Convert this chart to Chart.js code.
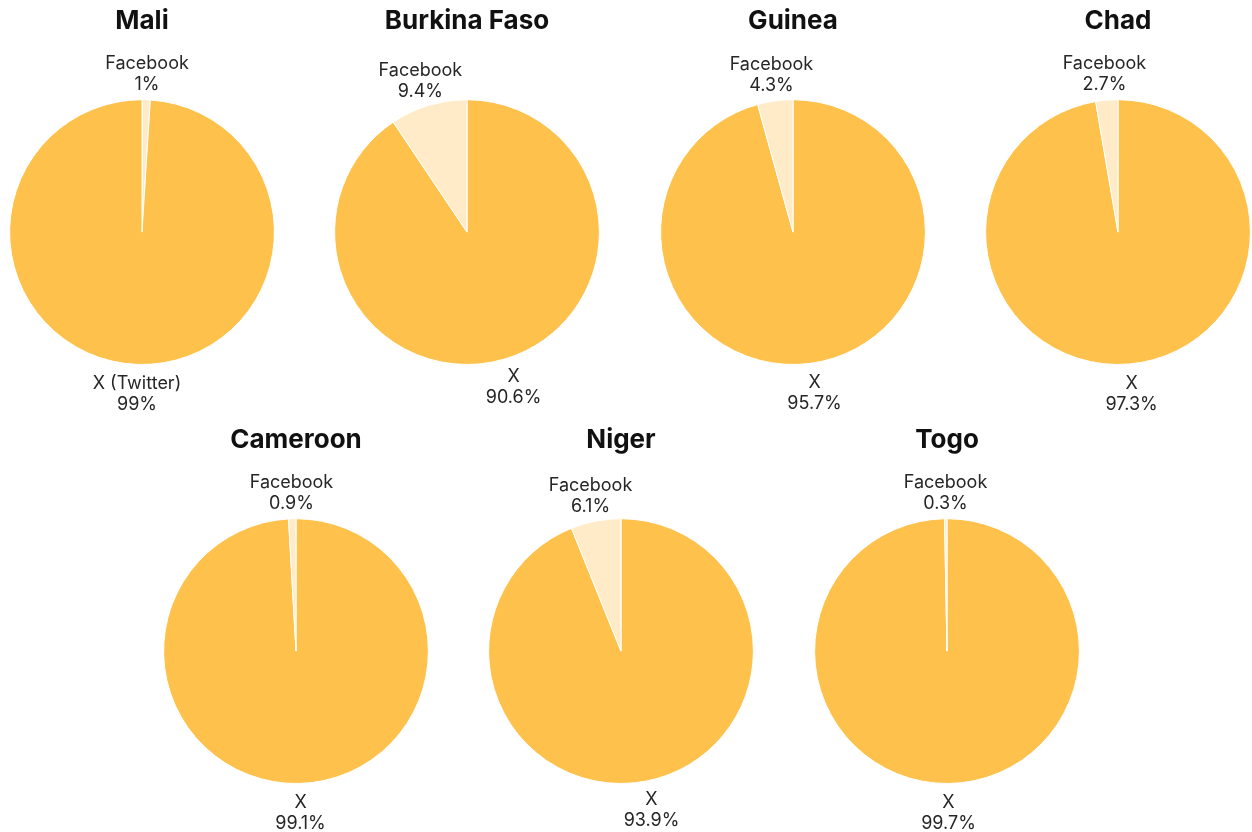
<!DOCTYPE html>
<html lang="en">
<head>
    <meta charset="UTF-8">
    <title>X vs Facebook by country</title>
    <style>
        body {
            margin: 0;
            padding: 0;
            background: #ffffff;
            width: 1252px;
            height: 832px;
            overflow: hidden;
            position: relative;
        }

        .pie {
            position: absolute;
            width: 300px;
            height: 413px;
        }
    </style>
</head>
<body>
    <canvas class="pie" id="pie0" width="300" height="413" style="left:-8px; top:0px;"></canvas>
    <canvas class="pie" id="pie1" width="300" height="413" style="left:317px; top:0px;"></canvas>
    <canvas class="pie" id="pie2" width="300" height="413" style="left:643px; top:0px;"></canvas>
    <canvas class="pie" id="pie3" width="300" height="413" style="left:968px; top:0px;"></canvas>
    <canvas class="pie" id="pie4" width="300" height="413" style="left:146px; top:419px;"></canvas>
    <canvas class="pie" id="pie5" width="300" height="413" style="left:471px; top:419px;"></canvas>
    <canvas class="pie" id="pie6" width="300" height="413" style="left:797px; top:419px;"></canvas>

    <script src="https://cdn.jsdelivr.net/npm/chart.js"></script>
    <script>
        // Data
        const countries = ['Mali', 'Burkina Faso', 'Guinea', 'Chad', 'Cameroon', 'Niger', 'Togo'];
        const xShare = [99, 90.6, 95.7, 97.3, 99.1, 93.9, 99.7];
        const facebookShare = [1, 9.4, 4.3, 2.7, 0.9, 6.1, 0.3];
        const xLabels = ['X (Twitter)', 'X', 'X', 'X', 'X', 'X', 'X'];
        // Mali lists Facebook first, the others list X first
        const facebookFirst = [true, false, false, false, false, false, false];

        const ORANGE = '#FEC24C';
        const LIGHT = '#FFEBC8';
        const FONT = 'Inter, "Noto Sans", sans-serif';

        // draws "label \n value%" outside each slice, centred on the slice's mid angle
        const outerLabels = {
            id: 'outerLabels',
            afterDatasetsDraw(chart) {
                const ctx = chart.ctx;
                const meta = chart.getDatasetMeta(0);
                const values = chart.data.datasets[0].data;
                const lineH = 21;
                ctx.save();
                ctx.font = '18px ' + FONT;
                ctx.fillStyle = '#262626';
                ctx.textAlign = 'center';
                ctx.textBaseline = 'middle';
                meta.data.forEach((arc, i) => {
                    const p = arc.getProps(['x', 'y', 'startAngle', 'endAngle', 'outerRadius'], true);
                    const mid = (p.startAngle + p.endAngle) / 2;
                    const r = p.outerRadius * 1.21;
                    const cx = p.x + Math.cos(mid) * r;
                    const cy = p.y + Math.sin(mid) * r + 2;
                    ctx.fillText(chart.data.labels[i], cx, cy - lineH / 2);
                    ctx.fillText(values[i] + '%', cx, cy + lineH / 2);
                });
                ctx.restore();
            }
        };

        function createPie(idx) {
            let labels = [xLabels[idx], 'Facebook'];
            let data = [xShare[idx], facebookShare[idx]];
            let colors = [ORANGE, LIGHT];
            if (facebookFirst[idx]) {
                labels = labels.reverse();
                data = data.reverse();
                colors = colors.reverse();
            }
            const ctx = document.getElementById('pie' + idx).getContext('2d');
            new Chart(ctx, {
                type: 'pie',
                data: {
                    labels: labels,
                    datasets: [{
                        data: data,
                        backgroundColor: colors,
                        borderColor: '#ffffff',
                        borderWidth: 1
                    }]
                },
                options: {
                    responsive: false,
                    animation: false,
                    layout: {
                        padding: { top: 0, bottom: 48, left: 10, right: 10 }
                    },
                    plugins: {
                        legend: { display: false },
                        tooltip: { enabled: false },
                        title: {
                            display: true,
                            text: countries[idx],
                            color: '#111111',
                            font: { family: FONT, size: 26, weight: 'bold' },
                            padding: { top: 6, bottom: 62 }
                        }
                    }
                },
                plugins: [outerLabels]
            });
        }

        countries.forEach((c, i) => createPie(i));
    </script>
</body>
</html>
